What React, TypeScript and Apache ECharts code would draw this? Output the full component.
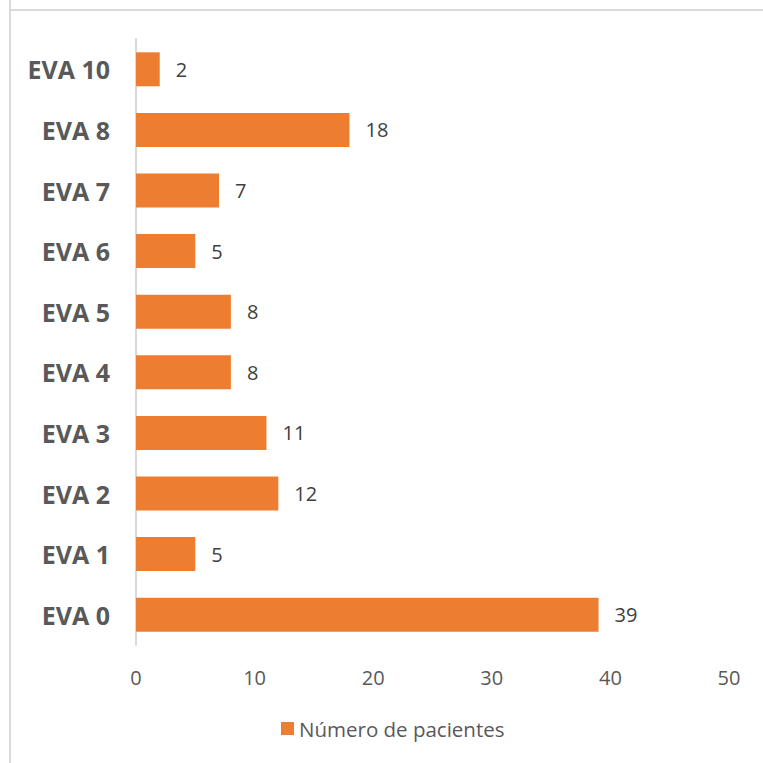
import React, { useEffect, useRef } from "react";
import * as echarts from "echarts";

const categories = ["EVA 0", "EVA 1", "EVA 2", "EVA 3", "EVA 4", "EVA 5", "EVA 6", "EVA 7", "EVA 8", "EVA 10"];
const pacientes = [39, 5, 12, 11, 8, 8, 5, 7, 18, 2];
const seriesName = "Número de pacientes";
const xTicks = { min: 0, max: 50, interval: 10 };

export default function App() {
  const ref = useRef<HTMLDivElement>(null);
  useEffect(() => {
    if (!ref.current) return;
    const chart = echarts.init(ref.current, null, { renderer: "svg" });
    const font = "'Open Sans', sans-serif";
    chart.setOption({
      animation: false,
      backgroundColor: "#ffffff",
      textStyle: { fontFamily: font },
      graphic: [
        { type: "line", shape: { x1: 10, y1: 0, x2: 10, y2: 763 }, style: { stroke: "#d9d9d9", lineWidth: 2 } },
        { type: "line", shape: { x1: 9, y1: 10, x2: 763, y2: 10 }, style: { stroke: "#d9d9d9", lineWidth: 2 } },
      ],
      grid: { left: 136, right: 34, top: 39, bottom: 118 },
      legend: {
        data: [seriesName],
        left: 276,
        top: 713,
        icon: "rect",
        itemWidth: 13,
        itemHeight: 13,
        itemGap: 8,
        textStyle: { fontFamily: font, fontSize: 20.5, color: "#595959" },
      },
      xAxis: {
        type: "value",
        min: xTicks.min,
        max: xTicks.max,
        interval: xTicks.interval,
        axisLine: { show: false },
        axisTick: { show: false },
        splitLine: { show: false },
        axisLabel: { fontFamily: font, fontSize: 20, color: "#595959", margin: 22 },
      },
      yAxis: {
        type: "category",
        data: categories,
        axisLine: { show: true, lineStyle: { color: "#d9d9d9", width: 2 } },
        axisTick: { show: false },
        axisLabel: { fontFamily: font, fontSize: 25, fontWeight: "bold", color: "#595959", margin: 26 },
      },
      series: [
        {
          name: seriesName,
          type: "bar",
          data: pacientes,
          barWidth: 34,
          itemStyle: { color: "#ED7D31" },
          label: {
            show: true,
            position: "right",
            distance: 16,
            fontFamily: font,
            fontSize: 20,
            color: "#404040",
          },
        },
      ],
    });
    return () => chart.dispose();
  }, []);
  return <div ref={ref} style={{ position: "fixed", left: 0, top: 0, width: 763, height: 763 }} />;
}
